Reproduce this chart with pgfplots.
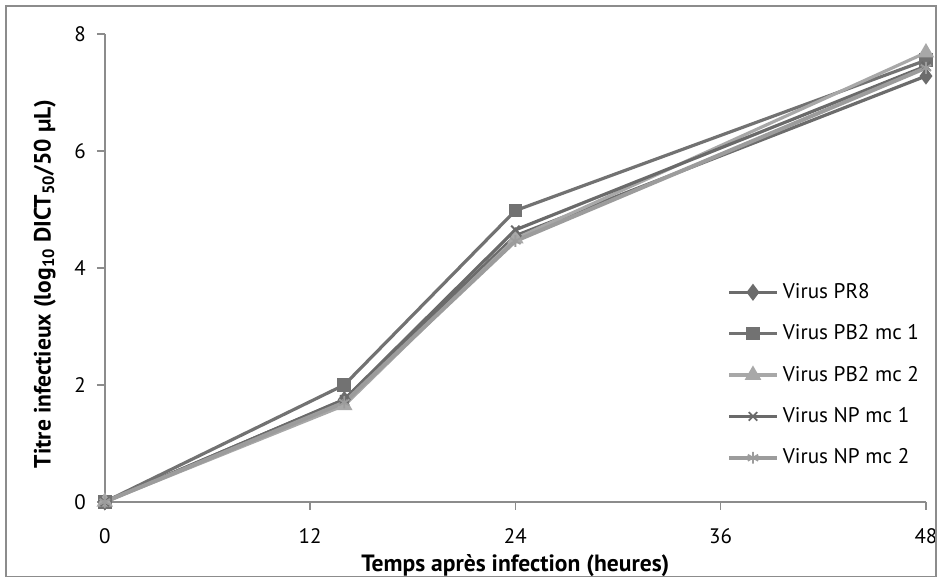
\documentclass[border=0pt]{standalone}
\usepackage{pgfplots}
\pgfplotsset{compat=1.18}
\usepackage{fontspec}
\setmainfont{PT Sans}
\definecolor{cA}{HTML}{6C6C6C}
\definecolor{cB}{HTML}{727272}
\definecolor{cC}{HTML}{A8A8A8}
\definecolor{cD}{HTML}{6A6A6A}
\definecolor{cE}{HTML}{9C9C9C}
\definecolor{axc}{HTML}{8C8C8C}
\begin{document}
\begin{tikzpicture}[x=1bp,y=1bp]
\begin{axis}[
  at={(0,0)}, anchor=origin,
  scale only axis,
  width=411.5bp, height=234.5bp,
  xmin=0, xmax=48, ymin=0, ymax=8,
  xtick={0,12,24,36,48}, ytick={0,2,4,6,8},
  axis x line*=bottom, axis y line*=left,
  axis line style={axc, line width=0.8bp, -},
  tick style={axc, line width=0.8bp},
  tick align=outside,
  major tick length=4bp,
  clip=false,
  font=\fontsize{10.5bp}{12bp}\selectfont,
  /pgf/number format/assume math mode=true,
  ticklabel style={font=\fontsize{10.5bp}{12bp}\selectfont},
  xticklabel style={yshift=-6bp},
  yticklabel style={xshift=-2bp},
  xlabel={\bfseries Temps après infection (heures)},
  ylabel={\bfseries Titre infectieux (log\textsubscript{10} DICT\textsubscript{50}/50 µL)},
  xlabel style={at={(axis description cs:0.5,0)}, anchor=north, yshift=-23bp, font=\fontsize{11.8bp}{13bp}\selectfont},
  ylabel style={at={(axis description cs:0,0.5)}, anchor=south, yshift=21bp, xshift=-8bp, font=\fontsize{11.8bp}{13bp}\selectfont},
  legend style={at={(rel axis cs:0.75,0.485)}, anchor=north west, draw=none, fill=none,
    font=\fontsize{10.6bp}{12bp}\selectfont, row sep=7.7bp},
  legend cell align=left,
  legend image code/.code={\draw[#1] (0bp,0bp) -- (12bp,0bp) -- (24bp,0bp); \path[#1, only marks] plot coordinates {(12bp,0bp)};},
]
\addplot[cA, line width=1.6bp, mark=diamond*, mark size=3bp, mark options={solid}] coordinates {(0,0) (14,1.75) (24,4.55) (48,7.28)};
\addlegendentry{Virus PR8}
\addplot[cB, line width=1.6bp, mark=square*, mark size=2.6bp] coordinates {(0,0) (14,2.0) (24,4.98) (48,7.55)};
\addlegendentry{Virus PB2 mc 1}
\addplot[cC, line width=1.6bp, mark=triangle*, mark size=3.2bp] coordinates {(0,0) (14,1.65) (24,4.5) (48,7.68)};
\addlegendentry{Virus PB2 mc 2}
\addplot[cD, line width=1.6bp, mark=x, mark size=3bp, mark options={line width=0.9bp}] coordinates {(0,0) (14,1.75) (24,4.65) (48,7.45)};
\addlegendentry{Virus NP mc 1}
\addplot[cE, line width=2bp, mark=asterisk, mark size=3bp, mark options={line width=0.9bp}] coordinates {(0,0) (14,1.7) (24,4.46) (48,7.42)};
\addlegendentry{Virus NP mc 2}
\end{axis}
\draw[black!45, line width=0.6bp] (-49.5bp,-37.5bp) rectangle (416.5bp,248.5bp);
\path (-52.5bp,-40.5bp) rectangle (419.5bp,251.5bp);
\end{tikzpicture}
\end{document}
